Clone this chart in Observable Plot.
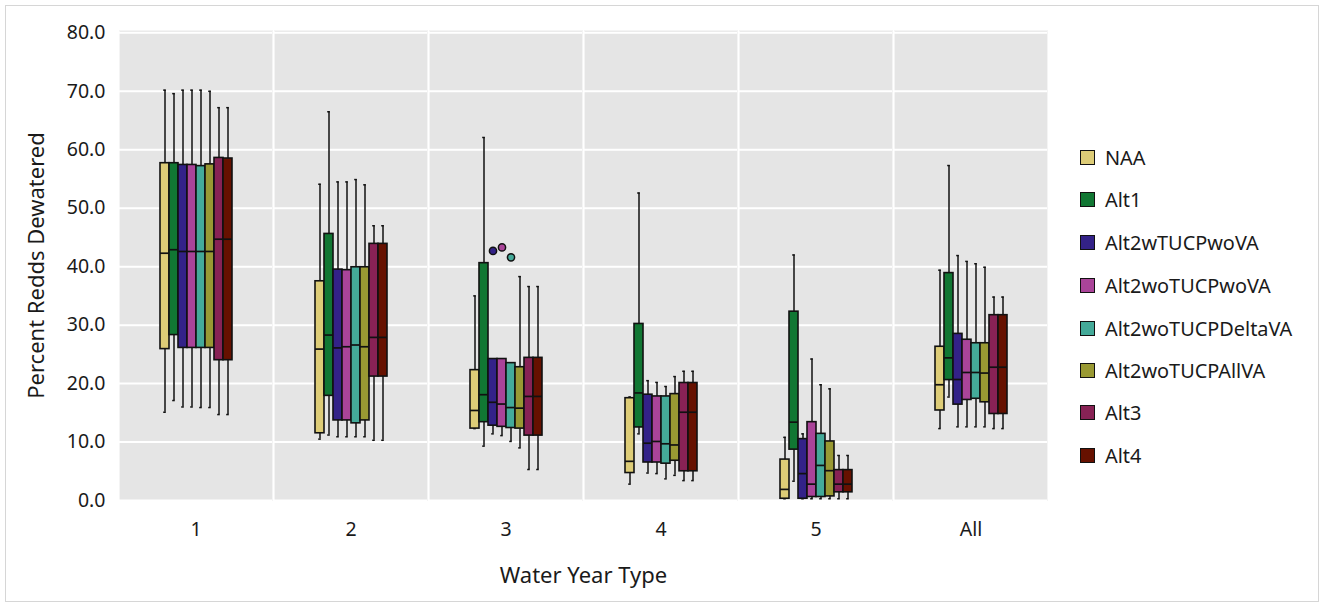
<!DOCTYPE html>
<html>
<head>
<meta charset="utf-8">
<script src="https://cdn.jsdelivr.net/npm/d3@7"></script>
<script src="https://cdn.jsdelivr.net/npm/@observablehq/plot@0.6"></script>
<style>
  html, body { margin: 0; padding: 0; background: #fff; }
  #wrap { position: relative; width: 1324px; height: 605px; overflow: hidden; font-family: "Noto Sans", sans-serif; color: #1a1a1a; }
  #border { position: absolute; left: 5px; top: 5px; width: 1314px; height: 597px; border: 1.5px solid #d6d6d6; box-sizing: border-box; }
  #chart { position: absolute; left: 0; top: 0; }
  #legend { position: absolute; left: 1080px; top: 0; }
  .row { position: absolute; display: flex; align-items: center; white-space: nowrap; font-size: 19.9px; }
  .sw { width: 13px; height: 13px; border: 1px solid #111; margin-right: 10px; flex: none; }
  g[aria-label="fx-axis label"] text, g[aria-label="y-axis label"] text { font-size: 22px; }
</style>
</head>
<body>
<div id="wrap"><div id="border"></div><div id="chart"></div><div id="legend"></div></div>
<script>
const groups = ["1", "2", "3", "4", "5", "All"];
const series = ["NAA", "Alt1", "Alt2wTUCPwoVA", "Alt2woTUCPwoVA", "Alt2woTUCPDeltaVA", "Alt2woTUCPAllVA", "Alt3", "Alt4"];
const colors = ["#DDCC77", "#117733", "#332288", "#AA4499", "#44AA99", "#999933", "#882255", "#661100"];
const yTicks = [0, 10, 20, 30, 40, 50, 60, 70, 80];

// rows: groups; columns: series
const whiskerHigh = [
  [70.2, 69.6, 70.2, 70.2, 70.2, 70.0, 67.2, 67.2],
  [54.1, 66.5, 54.5, 54.5, 54.9, 54.0, 47.0, 47.0],
  [35.0, 62.1, 24.2, 24.2, 23.5, 38.3, 36.6, 36.6],
  [17.7, 52.6, 20.5, 20.2, 19.5, 21.2, 22.1, 22.1],
  [10.8, 42.0, 11.4, 24.2, 19.8, 19.1, 7.7, 7.7],
  [39.4, 57.3, 41.9, 40.9, 40.5, 39.9, 34.8, 34.8]
];
const q3 = [
  [57.7, 57.7, 57.4, 57.4, 57.2, 57.5, 58.6, 58.5],
  [37.5, 45.6, 39.5, 39.4, 39.9, 39.9, 43.9, 43.9],
  [22.3, 40.6, 24.2, 24.2, 23.5, 22.8, 24.4, 24.4],
  [17.5, 30.2, 18.1, 17.8, 17.8, 18.2, 20.1, 20.1],
  [7.0, 32.3, 10.5, 13.4, 11.4, 10.1, 5.2, 5.2],
  [26.3, 38.9, 28.5, 27.5, 26.9, 26.9, 31.7, 31.7]
];
const median = [
  [42.3, 42.9, 42.6, 42.6, 42.6, 42.6, 44.7, 44.7],
  [25.9, 28.3, 26.1, 26.3, 26.6, 26.3, 27.9, 27.9],
  [15.4, 18.1, 16.8, 16.5, 15.9, 15.8, 17.8, 17.8],
  [6.7, 18.4, 9.8, 10.1, 9.7, 9.5, 15.1, 15.1],
  [1.9, 13.4, 4.6, 2.8, 6.0, 5.1, 2.8, 2.8],
  [19.8, 24.4, 20.7, 21.9, 21.9, 21.8, 22.8, 22.8]
];
const q1 = [
  [25.9, 28.3, 26.1, 26.1, 26.1, 26.1, 24.0, 24.0],
  [11.5, 17.9, 13.7, 13.7, 13.2, 13.7, 21.2, 21.2],
  [12.3, 13.4, 12.8, 12.6, 12.4, 12.3, 11.1, 11.1],
  [4.7, 12.5, 6.5, 6.5, 6.3, 6.8, 5.0, 5.0],
  [0.3, 8.7, 0.3, 0.6, 0.6, 0.7, 1.4, 1.4],
  [15.4, 20.6, 16.4, 17.2, 17.4, 16.8, 14.8, 14.8]
];
const whiskerLow = [
  [15.1, 17.1, 16.0, 16.0, 15.9, 15.9, 14.7, 14.7],
  [10.5, 11.2, 10.9, 10.9, 10.9, 10.9, 10.3, 10.3],
  [12.3, 9.3, 11.4, 11.1, 10.1, 9.0, 5.3, 5.3],
  [2.8, 11.4, 4.7, 4.6, 3.7, 4.3, 3.4, 3.4],
  [0.3, 3.3, 0.3, 0.3, 0.3, 0.3, 0.3, 0.3],
  [12.3, 17.7, 12.6, 12.6, 12.6, 12.6, 12.3, 12.3]
];
const outlierGroup = ["3", "3", "3"];
const outlierSeries = ["Alt2wTUCPwoVA", "Alt2woTUCPwoVA", "Alt2woTUCPDeltaVA"];
const outlierValue = [42.7, 43.3, 41.6];

const boxes = [];
groups.forEach((g, i) => series.forEach((s, j) => boxes.push({
  group: g, series: s,
  lo: whiskerLow[i][j], q1: q1[i][j], med: median[i][j], q3: q3[i][j], hi: whiskerHigh[i][j]
})));
const outliers = outlierValue.map((v, k) => ({group: outlierGroup[k], series: outlierSeries[k], value: v}));

const plot = Plot.plot({
  width: 1060,
  height: 600,
  marginLeft: 119,
  marginRight: 13,
  marginTop: 30,
  marginBottom: 100,
  style: {fontFamily: "Noto Sans, sans-serif", fontSize: "19.5px", color: "#1a1a1a", background: "transparent"},
  fx: {domain: groups, padding: 0.014, axis: "bottom", tickSize: 0, tickPadding: 22,
       label: "Water Year Type", labelAnchor: "center", labelOffset: 82, labelArrow: "none"},
  x: {domain: series, paddingInner: 0.05, paddingOuter: 3.9, axis: null},
  y: {domain: [0, 80.4], ticks: yTicks, tickFormat: d3.format(".1f"), tickSize: 0, tickPadding: 14,
      label: "Percent Redds Dewatered", labelAnchor: "center", labelOffset: 91, labelArrow: "none"},
  color: {domain: series, range: colors},
  marks: [
    Plot.frame({fill: "#e5e5e5", stroke: "#f4f4f4"}),
    Plot.gridY(yTicks, {stroke: "white", strokeOpacity: 1, strokeWidth: 2}),
    Plot.ruleX(boxes, {fx: "group", x: "series", y1: "lo", y2: "hi", stroke: "#111", strokeWidth: 1.5}),
    Plot.tickY(boxes, {fx: "group", x: "series", y: "hi", stroke: "#111", strokeWidth: 1.5, insetLeft: 3.2, insetRight: 3.2}),
    Plot.tickY(boxes, {fx: "group", x: "series", y: "lo", stroke: "#111", strokeWidth: 1.5, insetLeft: 3.2, insetRight: 3.2}),
    Plot.barY(boxes, {fx: "group", x: "series", y1: "q1", y2: "q3", fill: "series", stroke: "#111", strokeWidth: 1.6}),
    Plot.tickY(boxes, {fx: "group", x: "series", y: "med", stroke: "#111", strokeWidth: 1.7}),
    Plot.dot(outliers, {fx: "group", x: "series", y: "value", fill: "series", stroke: "#111", strokeWidth: 1.5, r: 3.6})
  ]
});
document.getElementById("chart").appendChild(plot);

const legendRowsY = [157, 199, 242, 285, 328, 370, 412, 455];
const legend = document.getElementById("legend");
series.forEach((s, i) => {
  const row = document.createElement("div");
  row.className = "row";
  row.style.top = (legendRowsY[i] - 13) + "px";
  row.style.height = "26px";
  const sw = document.createElement("div");
  sw.className = "sw";
  sw.style.background = plot.scale("color").apply(s);
  const t = document.createElement("span");
  t.textContent = s;
  row.appendChild(sw);
  row.appendChild(t);
  legend.appendChild(row);
});
</script>
</body>
</html>
